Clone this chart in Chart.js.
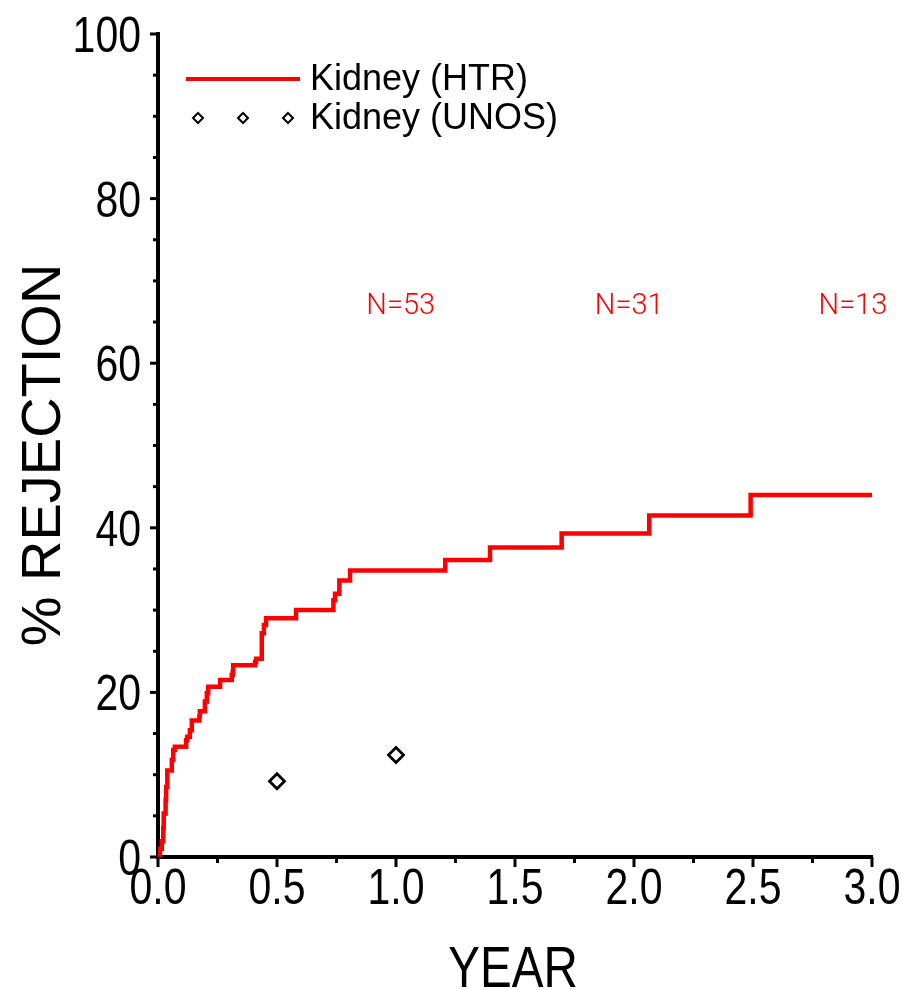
<!DOCTYPE html>
<html>
<head>
<meta charset="utf-8">
<script src="https://cdn.jsdelivr.net/npm/chart.js@4/dist/chart.umd.min.js"></script>
<style>
  html, body { margin: 0; padding: 0; background: #fff; }
  canvas { display: block; }
</style>
</head>
<body>
<canvas id="c" width="904" height="990"></canvas>
<script>
// ---- data ----
const htrLabel = 'Kidney (HTR)';
const unosLabel = 'Kidney (UNOS)';
// Kaplan-Meier style cumulative rejection (step after each time)
const kmYears = [0, 0.008, 0.016, 0.022, 0.024, 0.032, 0.034, 0.039, 0.058, 0.064, 0.071,
  0.118, 0.123, 0.134, 0.142, 0.174, 0.176, 0.197, 0.205, 0.211, 0.261, 0.310, 0.314, 0.316,
  0.408, 0.412, 0.436, 0.445, 0.454, 0.580, 0.737, 0.744, 0.762, 0.807, 1.207, 1.395, 1.696,
  2.064, 2.490, 3.0];
const kmPct = [0, 1.0, 1.9, 3.5, 5.3, 6.9, 8.5, 10.5, 11.8, 13.0, 13.4,
  14.2, 14.6, 15.4, 16.6, 17.1, 17.7, 18.9, 19.9, 20.7, 21.5, 22.1, 22.5, 23.3,
  23.7, 24.1, 27.2, 28.2, 29.0, 30.0, 31.2, 32.0, 33.6, 34.8, 36.1, 37.6, 39.3,
  41.5, 44.0, 44.0];
const unosYears = [0.5, 1.0];
const unosPct = [9.2, 12.4];
// numbers at risk annotations
const atRiskYears = [1.02, 1.98, 2.92];
const atRiskN = [53, 31, 13];
const atRiskPct = 66.8;
// tick labels and axis titles
const xTickLabels = ['0.0', '0.5', '1.0', '1.5', '2.0', '2.5', '3.0'];
const yTickLabels = ['0', '20', '40', '60', '80', '100'];
const xTitle = 'YEAR';
const yTitle = '% REJECTION';

const SANS = '"Liberation Sans", Arial, sans-serif';
const NARROW_SCALE = 0.82; // emulate a narrow sans face

const isMultiple = (v, step) => Math.abs(v / step - Math.round(v / step)) < 1e-6;

function narrowText(ctx, text, x, y, align) {
  ctx.save();
  ctx.translate(x, y);
  ctx.scale(NARROW_SCALE, 1);
  ctx.textAlign = align;
  ctx.fillText(text, 0, 0);
  ctx.restore();
}

const axisPlugin = {
  id: 'axisDecor',
  afterDraw(chart) {
    const ctx = chart.ctx;
    const xs = chart.scales.x, ys = chart.scales.y;
    const area = chart.chartArea;
    ctx.save();
    ctx.strokeStyle = '#000';
    ctx.fillStyle = '#000';
    ctx.lineWidth = 3;
    ctx.lineCap = 'butt';
    ctx.textBaseline = 'alphabetic';
    ctx.font = '50px ' + SANS;
    // y ticks (outward, left) + labels
    ys.ticks.forEach(t => {
      const py = ys.getPixelForValue(t.value);
      const major = isMultiple(t.value, 20);
      const len = major ? 8 : 5;
      ctx.beginPath();
      ctx.moveTo(area.left, py);
      ctx.lineTo(area.left - len, py);
      ctx.stroke();
      if (major) narrowText(ctx, yTickLabels[Math.round(t.value / 20)], area.left - 17, py + 18, 'right');
    });
    // x ticks (outward, down) + labels
    xs.ticks.forEach(t => {
      const px = xs.getPixelForValue(t.value);
      const major = isMultiple(t.value, 0.5);
      const len = major ? 10 : 6;
      ctx.beginPath();
      ctx.moveTo(px, area.bottom);
      ctx.lineTo(px, area.bottom + len);
      ctx.stroke();
      if (major) narrowText(ctx, xTickLabels[Math.round(t.value / 0.5)], px, area.bottom + 47, 'center');
    });
    // axis titles
    ctx.font = '58px ' + SANS;
    narrowText(ctx, xTitle, (area.left + area.right) / 2 - 2, 987, 'center');
    ctx.save();
    ctx.font = '56px ' + SANS;
    ctx.translate(60, 455);
    ctx.rotate(-Math.PI / 2);
    ctx.textAlign = 'center';
    ctx.fillText(yTitle, 0, 0);
    ctx.restore();
    // numbers at risk
    ctx.fillStyle = '#ff0000';
    ctx.font = '300 29px Roboto, "DejaVu Sans", sans-serif';
    ctx.textAlign = 'center';
    ctx.textBaseline = 'middle';
    atRiskYears.forEach((yr, i) => {
      ctx.fillText('N=' + atRiskN[i], xs.getPixelForValue(yr), ys.getPixelForValue(atRiskPct));
    });
    // legend
    const ds = chart.data.datasets;
    ctx.textAlign = 'left';
    ctx.fillStyle = '#000';
    ctx.font = '36px ' + SANS;
    ctx.strokeStyle = ds[0].borderColor;
    ctx.lineWidth = 4;
    ctx.beginPath();
    ctx.moveTo(186, 79);
    ctx.lineTo(300, 79);
    ctx.stroke();
    ctx.fillText(ds[0].label, 310, 80);
    ctx.strokeStyle = '#000';
    ctx.lineWidth = 2;
    [198, 243, 288].forEach(cx => {
      const r = 5;
      ctx.beginPath();
      ctx.moveTo(cx, 118 - r);
      ctx.lineTo(cx + r, 118);
      ctx.lineTo(cx, 118 + r);
      ctx.lineTo(cx - r, 118);
      ctx.closePath();
      ctx.stroke();
    });
    ctx.fillText(ds[1].label, 310, 119);
    ctx.restore();
  }
};

new Chart(document.getElementById('c'), {
  type: 'scatter',
  data: {
    datasets: [
      {
        label: htrLabel,
        data: kmYears.map((x, i) => ({ x, y: kmPct[i] })),
        showLine: true,
        stepped: true,
        borderColor: '#ff0000',
        borderWidth: 4.5,
        pointRadius: 0,
        pointHoverRadius: 0,
        fill: false
      },
      {
        label: unosLabel,
        data: unosYears.map((x, i) => ({ x, y: unosPct[i] })),
        showLine: false,
        pointStyle: 'rectRot',
        pointRadius: 7.5,
        pointBorderWidth: 2.8,
        borderColor: '#000',
        backgroundColor: '#fff'
      }
    ]
  },
  options: {
    responsive: false,
    animation: false,
    devicePixelRatio: 1,
    layout: { padding: { top: 34, right: 32, left: 0, bottom: 0 } },
    plugins: { legend: { display: false }, tooltip: { enabled: false } },
    scales: {
      x: {
        type: 'linear',
        min: 0, max: 3,
        position: 'bottom',
        grid: { display: false, drawTicks: false },
        border: { display: true, color: '#000', width: 4 },
        ticks: { stepSize: 0.25, autoSkip: false, display: false },
        afterFit: (s) => { s.height = 133; }
      },
      y: {
        type: 'linear',
        min: 0, max: 100,
        position: 'left',
        grid: { display: false, drawTicks: false },
        border: { display: true, color: '#000', width: 4 },
        ticks: { stepSize: 5, autoSkip: false, display: false },
        afterFit: (s) => { s.width = 158; }
      }
    }
  },
  plugins: [axisPlugin]
});
</script>
</body>
</html>
